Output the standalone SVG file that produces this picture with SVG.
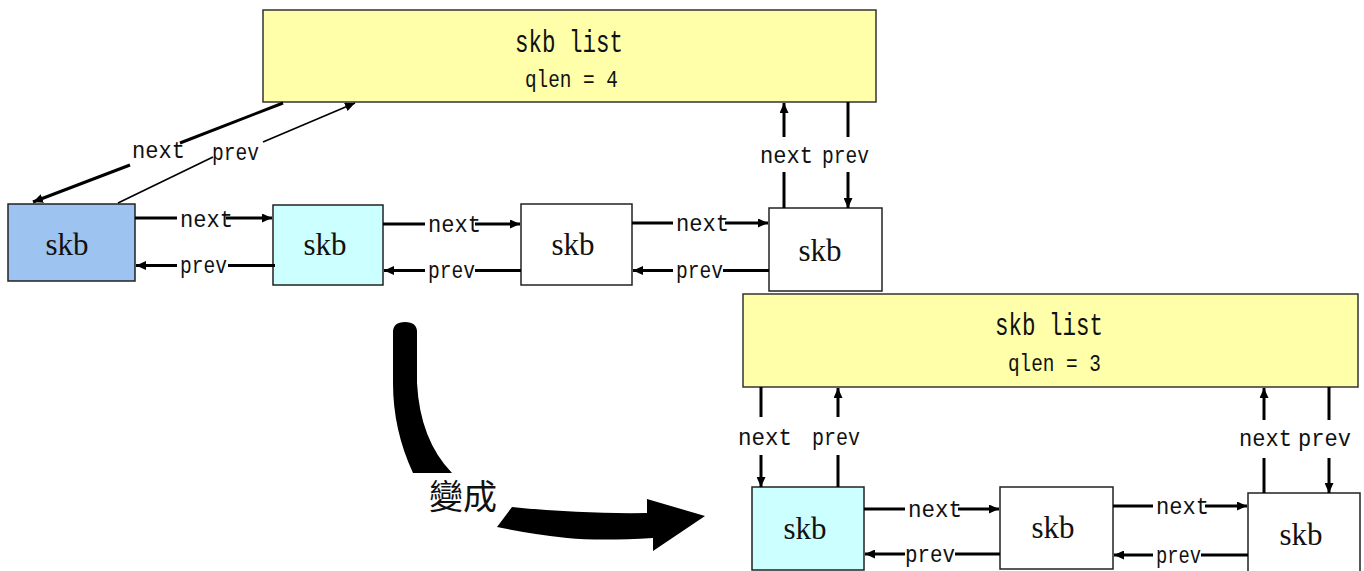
<svg xmlns="http://www.w3.org/2000/svg" width="1364" height="571" viewBox="0 0 1364 571">
  <defs>
    <marker id="head" markerUnits="userSpaceOnUse" markerWidth="10" markerHeight="9" refX="10" refY="4.5" orient="auto">
      <path d="M0,0 L10,4.5 L0,9 Z" fill="#000"/>
    </marker>
    <style>
      .list { fill: #ffffaa; stroke: #333; stroke-width: 1.5; }
      .node { stroke: #222; stroke-width: 1.5; }
      .plain { fill: #ffffff; }
      .head { fill: #9dc3f0; }
      .cyan { fill: #ccffff; }
      .title { font-family: "Liberation Mono", monospace; font-size: 31px; fill: #111; }
      .qlen { font-family: "Liberation Mono", monospace; font-size: 23px; fill: #111; }
      .skb { font-family: "Liberation Serif", serif; font-size: 31px; fill: #111; text-anchor: middle; }
      .lbl { font-family: "Liberation Mono", monospace; font-size: 24px; fill: #111; }
      .ln { stroke: #000; stroke-width: 3; fill: none; }
      .thin { stroke: #000; stroke-width: 1.6; fill: none; }
      .arr { marker-end: url(#head); }
      .cjk { font-family: "Liberation Sans", "Noto Sans CJK TC", sans-serif; font-size: 34px; fill: #111; }
    </style>
  </defs>

  <rect width="1364" height="571" fill="#ffffff"/>

  <!-- upper state: queue head with four buffers -->
  <g id="list-top">
    <rect class="list" x="263" y="10" width="613" height="92"/>
    <text class="title" x="515" y="52" textLength="108" lengthAdjust="spacingAndGlyphs">skb list</text>
    <text class="qlen" x="525" y="87" textLength="93" lengthAdjust="spacingAndGlyphs">qlen = 4</text>
  </g>
  <g id="skb-a">
    <rect class="node head" x="8" y="204" width="127" height="77"/>
    <text class="skb" x="67" y="255">skb</text>
  </g>
  <g id="skb-b">
    <rect class="node cyan" x="273" y="205" width="110" height="80"/>
    <text class="skb" x="325" y="255">skb</text>
  </g>
  <g id="skb-c">
    <rect class="node plain" x="521" y="204" width="111" height="81"/>
    <text class="skb" x="573" y="255">skb</text>
  </g>
  <g id="skb-d">
    <rect class="node plain" x="769" y="208" width="113" height="83"/>
    <text class="skb" x="820" y="261">skb</text>
  </g>

  <!-- lower state: queue head with three buffers -->
  <g id="list-bottom">
    <rect class="list" x="743" y="294" width="615" height="93"/>
    <text class="title" x="995" y="335" textLength="108" lengthAdjust="spacingAndGlyphs">skb list</text>
    <text class="qlen" x="1008" y="371" textLength="93" lengthAdjust="spacingAndGlyphs">qlen = 3</text>
  </g>
  <g id="skb-e">
    <rect class="node cyan" x="752" y="487" width="112" height="83"/>
    <text class="skb" x="805" y="539">skb</text>
  </g>
  <g id="skb-f">
    <rect class="node plain" x="1000" y="487" width="113" height="82"/>
    <text class="skb" x="1053" y="538">skb</text>
  </g>
  <g id="skb-g">
    <rect class="node plain" x="1248" y="493" width="112" height="82"/>
    <text class="skb" x="1301" y="545">skb</text>
  </g>

  <g id="connectors">
    <!-- head to first buffer (diagonal) -->
    <path class="ln" d="M283,103 L180,143" stroke-width="2.6"/>
    <path class="ln arr" d="M130,165 L33,202" stroke-width="2.6"/>
    <text class="lbl" x="132" y="158" textLength="53" lengthAdjust="spacingAndGlyphs">next</text>
    <path class="thin" d="M118,203 L213,157"/>
    <path class="thin arr" d="M263,142 L355,103"/>
    <text class="lbl" x="212" y="160" textLength="47" lengthAdjust="spacingAndGlyphs">prev</text>

    <!-- head to last buffer (vertical) -->
    <path class="ln" d="M784,208 L784,172"/>
    <path class="ln arr" d="M784,137 L784,103"/>
    <text class="lbl" x="760" y="163" textLength="53" lengthAdjust="spacingAndGlyphs">next</text>
    <path class="ln" d="M848,102 L848,137"/>
    <path class="ln arr" d="M848,172 L848,208"/>
    <text class="lbl" x="822" y="163" textLength="47" lengthAdjust="spacingAndGlyphs">prev</text>

    <!-- A <-> B -->
    <path class="ln" d="M135,218 L177,218"/>
    <path class="ln arr" d="M226,218 L272,218"/>
    <text class="lbl" x="180" y="227" textLength="53" lengthAdjust="spacingAndGlyphs">next</text>
    <path class="ln arr" d="M177,265.5 L136,265.5"/>
    <path class="ln" d="M228,265.5 L275,265.5"/>
    <text class="lbl" x="180" y="273" textLength="47" lengthAdjust="spacingAndGlyphs">prev</text>

    <!-- B <-> C -->
    <path class="ln" d="M383,224 L425,224"/>
    <path class="ln arr" d="M475,224 L520,224"/>
    <text class="lbl" x="428" y="232" textLength="53" lengthAdjust="spacingAndGlyphs">next</text>
    <path class="ln arr" d="M425,270.5 L384,270.5"/>
    <path class="ln" d="M475,270.5 L521,270.5"/>
    <text class="lbl" x="428" y="278" textLength="47" lengthAdjust="spacingAndGlyphs">prev</text>

    <!-- C <-> D -->
    <path class="ln" d="M632,223 L673,223"/>
    <path class="ln arr" d="M725,223 L768,223"/>
    <text class="lbl" x="676" y="231" textLength="53" lengthAdjust="spacingAndGlyphs">next</text>
    <path class="ln arr" d="M673,270.5 L633,270.5"/>
    <path class="ln" d="M723,270.5 L769,270.5"/>
    <text class="lbl" x="676" y="278" textLength="47" lengthAdjust="spacingAndGlyphs">prev</text>

    <!-- lower head to first buffer -->
    <path class="ln" d="M761,387 L761,417"/>
    <path class="ln arr" d="M761,455 L761,487"/>
    <text class="lbl" x="738" y="445" textLength="54" lengthAdjust="spacingAndGlyphs">next</text>
    <path class="ln" d="M838,487 L838,455"/>
    <path class="ln arr" d="M838,417 L838,388"/>
    <text class="lbl" x="812" y="445" textLength="48" lengthAdjust="spacingAndGlyphs">prev</text>

    <!-- lower head to last buffer -->
    <path class="ln" d="M1264,493 L1264,458"/>
    <path class="ln arr" d="M1264,420 L1264,388"/>
    <text class="lbl" x="1239" y="446" textLength="53" lengthAdjust="spacingAndGlyphs">next</text>
    <path class="ln" d="M1329,387 L1329,420"/>
    <path class="ln arr" d="M1329,458 L1329,493"/>
    <text class="lbl" x="1298" y="446" textLength="53" lengthAdjust="spacingAndGlyphs">prev</text>

    <!-- E <-> F -->
    <path class="ln" d="M864,509 L905,509"/>
    <path class="ln arr" d="M958,509 L999,509"/>
    <text class="lbl" x="908" y="517" textLength="54" lengthAdjust="spacingAndGlyphs">next</text>
    <path class="ln arr" d="M905,554 L865,554"/>
    <path class="ln" d="M955,554 L1000,554"/>
    <text class="lbl" x="905" y="562" textLength="50" lengthAdjust="spacingAndGlyphs">prev</text>

    <!-- F <-> G -->
    <path class="ln" d="M1113,506 L1153,506"/>
    <path class="ln arr" d="M1205,506 L1247,506"/>
    <text class="lbl" x="1156" y="514" textLength="53" lengthAdjust="spacingAndGlyphs">next</text>
    <path class="ln arr" d="M1153,555 L1114,555"/>
    <path class="ln" d="M1201,555 L1248,555"/>
    <text class="lbl" x="1156" y="563" textLength="45" lengthAdjust="spacingAndGlyphs">prev</text>
  </g>

  <!-- transition arrow between the two states -->
  <g id="transition">
    <path d="M393,332 Q393,322 405,322 Q417,322 417,332 L417,383 Q420,440 452,473 L413,473 Q393,430 393,383 Z" fill="#000"/>
    <path d="M497,527 L512,507 Q580,514 647,513 L647,499 L705,516 L653,551 L653,538 Q600,541 567,538 Q530,534 497,527 Z" fill="#000"/>
    <text class="cjk" x="429" y="509">變成</text>
  </g>
</svg>
